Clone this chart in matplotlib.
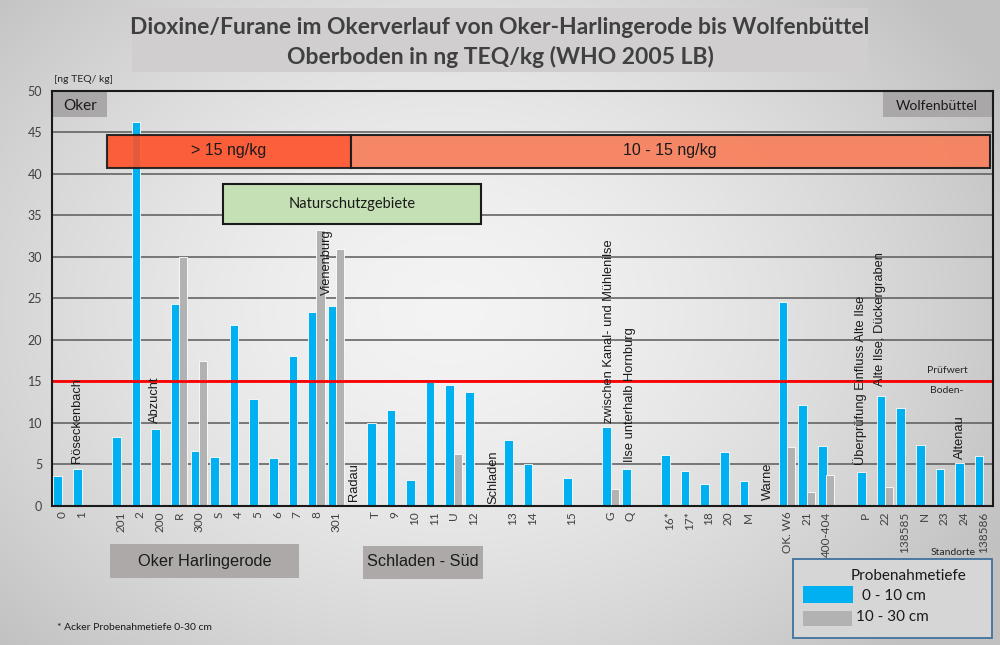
import numpy as np
import matplotlib
matplotlib.use("Agg")
import matplotlib.pyplot as plt
import matplotlib.patches as mpatches

# ── Data ─────────────────────────────────────────────────────────────────────
stations = ["0", "1", "", "201", "2", "200", "R", "300", "S", "4", "5", "6",
            "7", "8", "301", "", "T", "9", "10", "11", "U", "12", "", "13",
            "14", "", "15", "", "G", "Q", "", "16*", "17*", "18", "20", "M",
            "", "OK. W6", "21", "400-404", "", "P", "22", "138585", "N", "23",
            "24", "138586"]
nan = np.nan
top_0_10 = [3.6, 4.5, nan, 8.3, 46.2, 9.3, 24.3, 6.6, 5.9, 21.8, 12.9, 5.8,
            18.0, 23.4, 24.1, nan, 10.0, 11.6, 3.1, 14.9, 14.6, 13.7, nan, 7.9,
            5.1, nan, 3.4, nan, 9.5, 4.4, nan, 6.2, 4.2, 2.7, 6.5, 3.0,
            nan, 24.6, 12.2, 7.2, nan, 4.1, 13.2, 11.8, 7.3, 4.5,
            5.2, 6.0]
sub_10_30 = [nan, nan, nan, nan, nan, nan, 30.0, 17.5, nan, nan, nan, nan,
             nan, 33.2, 30.9, nan, nan, nan, nan, nan, 6.3, nan, nan, nan,
             nan, nan, nan, nan, 2.0, nan, nan, nan, nan, nan, nan, nan,
             nan, 7.05, 1.7, 3.75, nan, nan, 2.25, nan, nan, nan,
             nan, nan]
pruefwert = 15

# ── Style ────────────────────────────────────────────────────────────────────
C_BLUE = "#00B0F0"
C_GREY = "#B2B2B2"
C_TXT = "#404040"
F_CAL = "Lato"
F_ARI = "Liberation Sans"

fig = plt.figure(figsize=(10, 6.45), dpi=100)

# background radial gradient
bg = fig.add_axes([0, 0, 1, 1])
yy, xx = np.mgrid[0:1:200j, 0:1:300j]
r = np.sqrt(((xx - 0.45) / 0.62) ** 2 + ((yy - 0.52) / 0.75) ** 2)
r = np.clip(r, 0, 1) ** 1.6
c0, c1 = 0.955, 0.76
img = c0 + (c1 - c0) * r
bg.imshow(np.dstack([img, img, img]), extent=[0, 1, 0, 1], aspect="auto",
          origin="lower", interpolation="bilinear")
bg.set_xlim(0, 1)
bg.set_ylim(0, 1)
bg.axis("off")
bg.set_zorder(-5)

ax = fig.add_axes([0.052, 0.2155, 0.941, 0.6439])
ax.set_facecolor("none")

x = np.arange(len(stations))
b = np.array(top_0_10)
g = np.array(sub_10_30)
mb = ~np.isnan(b)
mg = ~np.isnan(g)
ax.bar(x[mb] - 0.21, b[mb], width=0.44, color=C_BLUE, edgecolor="white",
       linewidth=0.6, zorder=3, label="0 - 10 cm")
ax.bar(x[mg] + 0.20, g[mg], width=0.42, color=C_GREY, edgecolor="white",
       linewidth=0.6, zorder=3, label="10 - 30 cm")

ax.set_xlim(-0.5, len(stations) - 0.5)
ax.set_ylim(0, 50)
ax.set_yticks(np.arange(0, 51, 5))
ax.set_xticks(x, stations, rotation=90)
ax.tick_params(axis="both", length=0, colors=C_TXT)
ax.tick_params(axis="y", pad=7, labelsize=9)
ax.tick_params(axis="x", pad=4, labelsize=8.5)
for t in ax.get_xticklabels() + ax.get_yticklabels():
    t.set_fontfamily(F_CAL)
for yv in range(5, 50, 5):
    ax.axhline(yv, color="#5A5A5A", lw=1.1, zorder=1)
for s in ax.spines.values():
    s.set_color("#1A1A1A")
    s.set_linewidth(1.5)
    s.set_zorder(7)
ax.axhline(pruefwert, color="#FF0000", lw=2, zorder=4)

# ── boxes inside the plot ────────────────────────────────────────────────────
def box(x0, x1, y0, y1, fc, ec="none", lw=1.5, alpha=1, z=5):
    ax.add_patch(mpatches.Rectangle((x0, y0), x1 - x0, y1 - y0, facecolor=fc,
                 edgecolor=ec, lw=lw, alpha=alpha, zorder=z))

box(-0.45, 2.31, 46.8, 49.8, "#A9A7A7")
ax.text(0.93, 48.2, "Oker", ha="center", va="center", fontsize=11,
        family=F_CAL, color="#1A1A1A", zorder=6)
box(41.9, 47.45, 46.8, 49.8, "#A9A7A7")
ax.text(44.65, 48.2, "Wolfenbüttel", ha="center", va="center", fontsize=10,
        family=F_CAL, color="#1A1A1A", zorder=6)

box(2.31, 14.75, 40.75, 44.7, "#FF5028", ec="#1A1A1A", alpha=0.9)
ax.text(8.53, 42.75, "> 15 ng/kg", ha="center", va="center", fontsize=11.5,
        family=F_ARI, color="#1A1A1A", zorder=6)
box(14.75, 47.35, 40.75, 44.7, "#F7825F", ec="#1A1A1A", alpha=0.95)
ax.text(31.0, 42.75, "10 - 15 ng/kg", ha="center", va="center",
        fontsize=11.5, family=F_ARI, color="#1A1A1A", zorder=6)

box(8.22, 21.38, 33.9, 38.8, "#C5E0B4", ec="#1A1A1A")
ax.text(14.8, 36.4, "Naturschutzgebiete", ha="center", va="center",
        fontsize=10.5, family=F_CAL, color="#1A1A1A", zorder=6)

place_labels = [
    (0.8, 5.2, "Röseckenbach"),
    (4.75, 10.0, "Abzucht"),
    (13.5, 25.4, "Vienenburg"),
    (14.9, 0.6, "Radau"),
    (22.0, 0.25, "Schladen"),
    (27.9, 10.0, "zwischen Kanal- und Mühlenilse"),
    (29.0, 5.3, "Ilse unterhalb Hornburg"),
    (36.0, 0.7, "Warne"),
    (40.7, 4.9, "Überprüfung Einfluss Alte Ilse"),
    (41.75, 14.5, "Alte Ilse, Dückergraben"),
    (45.8, 5.7, "Altenau"),
]
for px, py, txt in place_labels:
    ax.text(px, py, txt, rotation=90, ha="center", va="bottom",
            fontsize=9.3, family=F_ARI, color="#1A1A1A", zorder=6)

ax.text(45.15, 16.3, "Prüfwert", ha="center", va="center", fontsize=7.5,
        family=F_CAL, color="#262626", zorder=6)
ax.text(45.15, 13.9, "Boden-", ha="center", va="center", fontsize=7.5,
        family=F_CAL, color="#262626", zorder=6)

# ── figure level texts ───────────────────────────────────────────────────────
fig.patches.append(mpatches.Rectangle((0.132, 0.8884), 0.736, 0.0992,
                   transform=fig.transFigure, facecolor="#D0CECE",
                   edgecolor="none", zorder=1))
fig.text(0.5, 0.958, "Dioxine/Furane im Okerverlauf von Oker-Harlingerode bis Wolfenbüttel",
         ha="center", va="center", fontsize=16.5, fontweight="bold",
         family=F_CAL, color=C_TXT)
fig.text(0.5, 0.9116, "Oberboden in ng TEQ/kg (WHO 2005 LB)",
         ha="center", va="center", fontsize=16.5, fontweight="bold",
         family=F_CAL, color=C_TXT)
fig.text(0.054, 0.876, "[ng TEQ/ kg]", ha="left", va="center", fontsize=7.5,
         family=F_CAL, color="#262626")

for (x0, y0, w, h), tx, ty, txt in [
    ((0.110, 0.1039, 0.189, 0.0527), 0.2045, 0.1302, "Oker Harlingerode"),
    ((0.363, 0.1023, 0.120, 0.0512), 0.423, 0.1287, "Schladen - Süd"),
]:
    fig.patches.append(mpatches.Rectangle((x0, y0), w, h,
                       transform=fig.transFigure, facecolor="#ADA9A8",
                       edgecolor="none", zorder=1))
    fig.text(tx, ty, txt, ha="center", va="center", fontsize=11.7,
             family=F_ARI, color="#1A1A1A")

fig.text(0.953, 0.144, "Standorte", ha="center", va="center", fontsize=7.5,
         family=F_CAL, color="#262626")
fig.text(0.057, 0.0264, "* Acker Probenahmetiefe 0-30 cm", ha="left",
         va="center", fontsize=7.5, family=F_CAL, color="#1A1A1A")

# legend
fig.patches.append(mpatches.Rectangle((0.793, 0.0109), 0.199, 0.1225,
                   transform=fig.transFigure, facecolor="#D6D6D6",
                   edgecolor="#41719C", lw=1.3, zorder=1))
fig.text(0.908, 0.107, "Probenahmetiefe", ha="center", va="center",
         fontsize=11, family=F_CAL, color="#1A1A1A")
fig.patches.append(mpatches.Rectangle((0.803, 0.0651), 0.050, 0.0264,
                   transform=fig.transFigure, facecolor=C_BLUE,
                   edgecolor="none", zorder=2))
fig.patches.append(mpatches.Rectangle((0.803, 0.0295), 0.049, 0.0233,
                   transform=fig.transFigure, facecolor=C_GREY,
                   edgecolor="none", zorder=2))
fig.text(0.862, 0.0760, "0 - 10 cm", ha="left", va="center", fontsize=11,
         family=F_CAL, color="#1A1A1A")
fig.text(0.856, 0.0434, "10 - 30 cm", ha="left", va="center", fontsize=11,
         family=F_CAL, color="#1A1A1A")

fig.savefig("out.png", dpi=100)
